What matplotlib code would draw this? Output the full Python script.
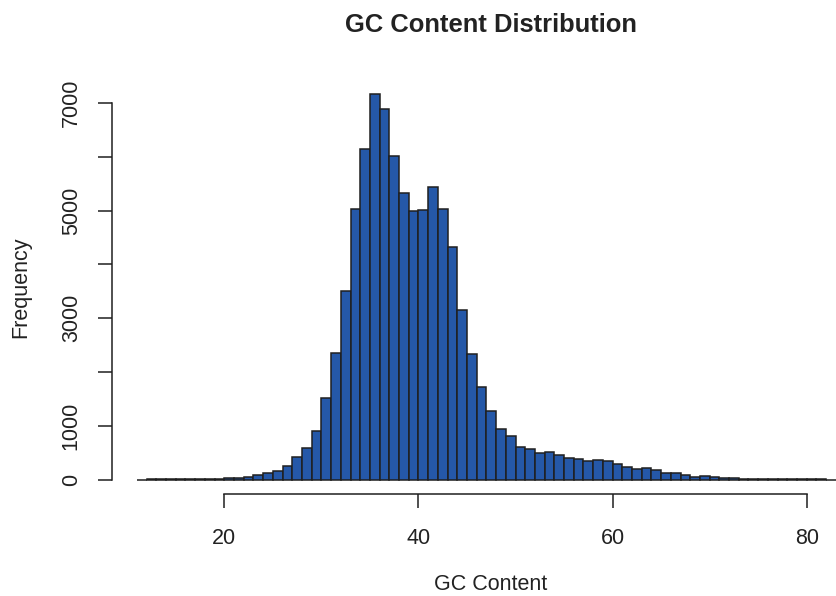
import numpy as np
import matplotlib
matplotlib.use("Agg")
import matplotlib.pyplot as plt

# GC content histogram, 1% bins
bin_left = np.arange(11, 83)
counts = [2, 3, 3, 4, 5, 10, 12, 15, 20, 25,
          37, 50, 87, 130, 161, 261, 416, 590, 906, 1508,
          2352, 3514, 5034, 6145, 7175, 6890, 6009, 5320, 4997, 5009,
          5438, 5022, 4314, 3160, 2328, 1726, 1276, 937, 804, 605,
          568, 490, 512, 459, 400, 391, 348, 366, 341, 292,
          242, 205, 217, 180, 124, 124, 87, 56, 68, 43,
          31, 25, 20, 18, 15, 12, 8, 6, 5, 4, 3, 2]
x_ticks = [20, 40, 60, 80]
y_ticks = [0, 1000, 2000, 3000, 4000, 5000, 6000, 7000]
y_labels = ["0", "1000", "", "3000", "", "5000", "", "7000"]

plt.rcParams['font.family'] = ['Liberation Sans', 'DejaVu Sans']

W, H = 837, 596
fig = plt.figure(figsize=(W / 100, H / 100), dpi=100)

# axes placed so the y axis sits at the left edge; the right side runs off the figure
xlim = (8.46, 86.0)
ylim = (-273, 7467)
px_per_unit = 9.707
left_px, bottom_px, top_px = 112.3, 494.3, 77.8
width_px = (xlim[1] - xlim[0]) * px_per_unit
ax = fig.add_axes([left_px / W, (H - bottom_px) / H,
                   width_px / W, (bottom_px - top_px) / H])

ax.bar(bin_left, counts, width=1, align='edge', color='#2558A8',
       edgecolor='#1f1f1f', linewidth=1.1)

ax.set_xlim(*xlim)
ax.set_ylim(*ylim)
for s in ['top', 'right']:
    ax.spines[s].set_visible(False)
ax.spines['left'].set_bounds(0, 7000)
ax.spines['bottom'].set_bounds(20, 80)
for s in ['left', 'bottom']:
    ax.spines[s].set_linewidth(1.1)
    ax.spines[s].set_color('#1f1f1f')

ax.set_xticks(x_ticks)
ax.set_yticks(y_ticks)
ax.set_yticklabels(y_labels, rotation=90, va='center')
ax.tick_params(length=10, width=1.1, color='#1f1f1f', labelsize=15.5,
               labelcolor='#222222')
ax.tick_params(axis='x', pad=14)
ax.tick_params(axis='y', pad=12)

text_kw = dict(color='#222222', ha='center', va='center')
fig.text(491 / W, 1 - 25 / H, "GC Content Distribution", fontsize=18.4,
         fontweight='bold', **text_kw)
fig.text(491 / W, 1 - 585 / H, "GC Content", fontsize=15.5, **text_kw)
fig.text(21 / W, 1 - 287 / H, "Frequency", fontsize=15.5, rotation=90, **text_kw)

fig.savefig("out.png", dpi=100)
